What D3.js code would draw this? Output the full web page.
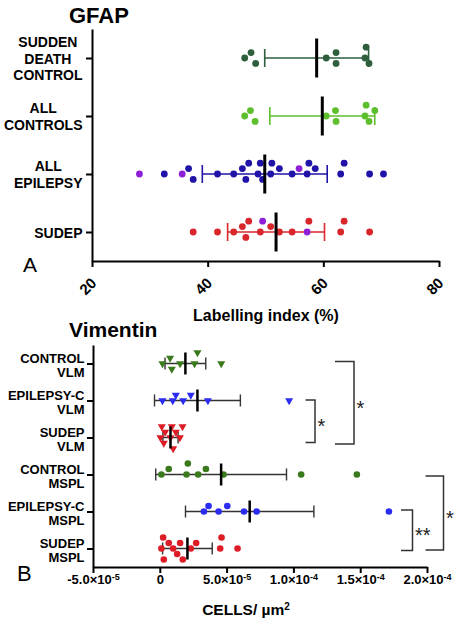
<!DOCTYPE html>
<html><head><meta charset="utf-8">
<script src="https://cdn.jsdelivr.net/npm/d3@7"></script>
<style>
body{margin:0;background:#fff}
svg{font-family:Arial,"Liberation Sans",Helvetica,sans-serif}
</style>
</head><body>
<svg id="c" width="457" height="620"></svg>
<script>
// ---------------- DATA ----------------
// Panel A: GFAP labelling index (%)
const gfapCategories = ["SUDDEN\nDEATH\nCONTROL", "ALL\nCONTROLS", "ALL\nEPILEPSY", "SUDEP"];
const gfapSuddenDeathControl = [46.4, 47.5, 48.3, 60.5, 62.2, 62.2, 67.4, 67.2, 67.9];
const gfapAllControls = [46.4, 47.4, 48.2, 60.5, 62.1, 62.2, 67.4, 67.2, 68.9, 67.9];
const gfapAllEpilepsy = [32.5, 36.7, 37.5, 41.7, 44.5, 47.1, 46.0, 46.6, 48.7, 49.1, 49.5, 51.1, 50.9, 52.4, 54.6, 57.2, 57.5, 58.6, 63.0, 63.6, 68.0, 70.4];
const gfapAllEpilepsyHighlighted = [28.2, 35.6, 55.8];
const gfapSudep = [37.5, 41.7, 44.5, 46.6, 46.0, 47.1, 49.1, 50.9, 52.4, 54.6, 57.5, 63.6, 63.0, 68.0];
const gfapSudepHighlighted = [49.5, 57.2];
const gfapTicks = [20, 40, 60, 80];

// Panel B: Vimentin (values in units of 1e-5 cells/µm²)
const vimCategories = ["CONTROL\nVLM", "EPILEPSY-C\nVLM", "SUDEP\nVLM", "CONTROL\nMSPL", "EPILEPSY-C\nMSPL", "SUDEP\nMSPL"];
const vimUnit = 1e-5;
const vimControlVLM = [0.2, 0.77, 0.9, 1.52, 2.6, 2.82, 4.6];
const vimEpilepsyCVLM = [0.2, 0.97, 1.2, 1.75, 2.32, 3.6, 9.68];
const vimSudepVLM = [0.05, 0.15, 0.3, 0.4, 0.8, 0.9, 1.0, 1.2, 1.5, 1.7];
const vimControlMSPL = [0.12, 0.67, 2.0, 2.1, 2.87, 3.45, 4.77, 10.58, 14.75];
const vimEpilepsyCMSPL = [3.3, 3.65, 4.4, 5.05, 6.3, 7.25, 17.15];
const vimSudepMSPL = [0.12, 0.25, 0.3, 0.67, 1.0, 1.3, 1.52, 1.72, 2.32, 2.72, 4.52, 4.62, 5.82];
const vimTicks = [-5e-5, 0, 5e-5, 1e-4, 1.5e-4, 2e-4];
const vimBrackets = [
  {from: 0, to: 2, label: "*"},
  {from: 1, to: 2, label: "*"},
  {from: 3, to: 5, label: "*"},
  {from: 4, to: 5, label: "**"}
];

// ---------------- HELPERS ----------------
const svg = d3.select("#c");

// lane-based scatter: same lane needs sameDx px apart, neighbouring lanes adjDx px
function swarm(points, x, sameDx, adjDx) {
  const sorted = points.slice().sort((a, b) => a.v - b.v);
  const placed = [];
  const lanes = [0, -1, 1, -2, 2, -3, 3, -4, 4, -5, 5];
  sorted.forEach(p => {
    p.px = x(p.v);
    for (const k of lanes) {
      const ok = placed.every(q => {
        const dx = Math.abs(q.px - p.px), dl = Math.abs(q.lane - k);
        if (dl === 0) return dx >= sameDx;
        if (dl === 1) return dx >= adjDx;
        return true;
      });
      if (ok) { p.lane = k; break; }
    }
    if (p.lane === undefined) p.lane = 0;
    placed.push(p);
  });
  return points;
}

function styleAxis(g, w) {
  g.select(".domain").attr("stroke", "#000").attr("stroke-width", w);
  g.selectAll(".tick line").attr("stroke", "#000").attr("stroke-width", w);
}

// ---------------- PANEL A ----------------
const xA = d3.scaleLinear().domain([20, 80]).range([92, 439]);
const yA = d3.scalePoint().domain(gfapCategories).range([29, 261]).padding(0.5);

const gxA = svg.append("g").attr("transform", "translate(0,261)")
  .call(d3.axisBottom(xA).tickValues(gfapTicks).tickSize(6).tickSizeOuter(0).tickFormat(d3.format("d")));
styleAxis(gxA, 2);
gxA.selectAll(".tick text")
  .attr("x", 0).attr("y", 0).attr("dy", 0)
  .attr("text-anchor", "end")
  .attr("transform", "translate(5,23) rotate(-45)")
  .attr("font-size", 15).attr("font-weight", "bold").attr("fill", "#000")
  .attr("font-family", "Arial,'Liberation Sans',sans-serif");

const gyA = svg.append("g").attr("transform", "translate(92,0)")
  .call(d3.axisLeft(yA).tickSize(6).tickSizeOuter(0).tickFormat(""));
styleAxis(gyA, 2);

// category labels A: block right-aligned, lines centered within block
gfapCategories.forEach(c => {
  const lines = c.split("\n");
  const lh = 16.5;
  const cy = yA(c);
  const t = svg.append("text").attr("font-size", 14).attr("font-weight", "bold")
    .attr("text-anchor", "middle").attr("fill", "#000");
  const spans = lines.map((l, i) => t.append("tspan").text(l)
    .attr("y", cy + 5.5 + (i - (lines.length - 1) / 2) * lh));
  const maxW = d3.max(spans, s => s.node().getComputedTextLength());
  spans.forEach(s => s.attr("x", 82.5 - maxW / 2));
});

svg.append("text").attr("x", 69).attr("y", 22.5).text("GFAP")
  .attr("font-size", 22).attr("font-weight", "bold");
svg.append("text").attr("x", 23).attr("y", 272).text("A")
  .attr("font-size", 21);
svg.append("text").attr("x", 266).attr("y", 321).attr("text-anchor", "middle")
  .text("Labelling index (%)").attr("font-size", 16).attr("font-weight", "bold");

const highlightColor = "#8e1fd8";
const gfapGroups = [
  {cat: gfapCategories[0], values: gfapSuddenDeathControl, hi: [], color: "#2e5e3c"},
  {cat: gfapCategories[1], values: gfapAllControls, hi: [], color: "#5dbf2b"},
  {cat: gfapCategories[2], values: gfapAllEpilepsy, hi: gfapAllEpilepsyHighlighted, color: "#1f13a8"},
  {cat: gfapCategories[3], values: gfapSudep, hi: gfapSudepHighlighted, color: "#d9262b"}
];
const laneA = 5.4;

gfapGroups.forEach(g => {
  const pts = g.values.map(v => ({v, c: g.color})).concat(g.hi.map(v => ({v, c: highlightColor})));
  const vals = pts.map(d => d.v);
  const m = d3.mean(vals), sd = d3.deviation(vals);
  const cy = yA(g.cat);
  const grp = svg.append("g");
  const x0 = xA(m - sd), x1 = xA(m + sd);
  grp.append("line").attr("x1", x0).attr("x2", x1).attr("y1", cy).attr("y2", cy)
    .attr("stroke", g.color).attr("stroke-width", 1.6);
  [x0, x1].forEach(xx => grp.append("line").attr("x1", xx).attr("x2", xx)
    .attr("y1", cy - 9).attr("y2", cy + 9).attr("stroke", g.color).attr("stroke-width", 1.6));
  swarm(pts, xA, 11, 3.5);
  grp.selectAll("circle").data(pts).join("circle")
    .attr("cx", d => xA(d.v)).attr("cy", d => cy + d.lane * laneA)
    .attr("r", 3.4).attr("fill", d => d.c);
  grp.append("line").attr("x1", xA(m)).attr("x2", xA(m))
    .attr("y1", cy - 19.5).attr("y2", cy + 19.5).attr("stroke", "#000").attr("stroke-width", 3);
});

// ---------------- PANEL B ----------------
const xB = d3.scaleLinear().domain([-5e-5, 2e-4]).range([93, 427]);
const yB = d3.scalePoint().domain(vimCategories).range([345, 567]).padding(0.5);

const gxB = svg.append("g").attr("transform", "translate(0,567)")
  .call(d3.axisBottom(xB).tickValues(vimTicks).tickSize(6).tickSizeOuter(0));
styleAxis(gxB, 2);
gxB.selectAll(".tick text").each(function(d) {
  const t = d3.select(this);
  t.text(null).attr("y", 8).attr("font-size", 13).attr("font-weight", "bold")
    .attr("fill", "#000").attr("font-family", "Arial,'Liberation Sans',sans-serif");
  if (d === 0) { t.text("0"); return; }
  const e = Math.floor(Math.log10(Math.abs(d)) + 1e-9);
  const mant = d / Math.pow(10, e);
  t.append("tspan").text(mant.toFixed(1) + "\u00d710");
  t.append("tspan").text(String(e)).attr("font-size", 9).attr("dy", "-0.5em");
});

const gyB = svg.append("g").attr("transform", "translate(93,0)")
  .call(d3.axisLeft(yB).tickSize(6).tickSizeOuter(0).tickFormat(""));
styleAxis(gyB, 2);

vimCategories.forEach(c => {
  const lines = c.split("\n");
  const cy = yB(c);
  const t = svg.append("text").attr("font-size", 13).attr("font-weight", "bold")
    .attr("text-anchor", "end").attr("fill", "#000");
  lines.forEach((l, i) => t.append("tspan").text(l).attr("x", 84.5).attr("y", cy - 1 + i * 14));
});

svg.append("text").attr("x", 69).attr("y", 336.5).text("Vimentin")
  .attr("font-size", 21).attr("font-weight", "bold");
svg.append("text").attr("x", 17).attr("y", 581).text("B")
  .attr("font-size", 22);
const xt = svg.append("text").attr("x", 246).attr("y", 615).attr("text-anchor", "middle")
  .attr("font-size", 15.5).attr("font-weight", "bold");
xt.append("tspan").text("CELLS/ \u00b5m");
xt.append("tspan").text("2").attr("font-size", 10).attr("dy", "-0.55em");

const vimGroups = [
  {cat: vimCategories[0], values: vimControlVLM, color: "#3a7a1c", shape: "tri"},
  {cat: vimCategories[1], values: vimEpilepsyCVLM, color: "#2b2bf2", shape: "tri"},
  {cat: vimCategories[2], values: vimSudepVLM, color: "#dd1c25", shape: "tri"},
  {cat: vimCategories[3], values: vimControlMSPL, color: "#3a7a1c", shape: "dot"},
  {cat: vimCategories[4], values: vimEpilepsyCMSPL, color: "#2b2bf2", shape: "dot"},
  {cat: vimCategories[5], values: vimSudepMSPL, color: "#dd1c25", shape: "dot"}
];
const tri = d3.symbol().type(d3.symbolTriangle).size(28);
const laneB = 5.5;

vimGroups.forEach(g => {
  const pts = g.values.map(v => ({v: v * vimUnit}));
  const vals = pts.map(d => d.v);
  const m = d3.mean(vals), sd = d3.deviation(vals);
  const cy = yB(g.cat);
  const grp = svg.append("g");
  const x0 = xB(m - sd), x1 = xB(m + sd);
  grp.append("line").attr("x1", x0).attr("x2", x1).attr("y1", cy).attr("y2", cy)
    .attr("stroke", "#333").attr("stroke-width", 1.4);
  [x0, x1].forEach(xx => grp.append("line").attr("x1", xx).attr("x2", xx)
    .attr("y1", cy - 6).attr("y2", cy + 6).attr("stroke", "#333").attr("stroke-width", 1.4));
  swarm(pts, xB, 9, 3);
  if (g.shape === "tri") {
    grp.selectAll("path.pt").data(pts).join("path").attr("class", "pt")
      .attr("d", tri)
      .attr("transform", d => `translate(${xB(d.v)},${cy + d.lane * laneB}) rotate(180)`)
      .attr("fill", g.color);
  } else {
    grp.selectAll("circle").data(pts).join("circle")
      .attr("cx", d => xB(d.v)).attr("cy", d => cy + d.lane * laneB)
      .attr("r", 3.3).attr("fill", g.color);
  }
  grp.append("line").attr("x1", xB(m)).attr("x2", xB(m))
    .attr("y1", cy - 11).attr("y2", cy + 11).attr("stroke", "#000").attr("stroke-width", 2.5);
});

// significance brackets (layout: x of vertical line, arm length, offsets)
const bracketLayout = [
  {x: 354, arm: 19, top: -2, bot: 6.5},
  {x: 315, arm: 9.5, top: -0.5, bot: 5},
  {x: 443.5, arm: 18, top: 1.5, bot: 1.5},
  {x: 412.5, arm: 11.5, top: -1.5, bot: 2}
];
vimBrackets.forEach((b, i) => {
  const L = bracketLayout[i];
  const y0 = yB(vimCategories[b.from]) + L.top, y1 = yB(vimCategories[b.to]) + L.bot;
  svg.append("path")
    .attr("d", `M${L.x - L.arm},${y0}H${L.x}V${y1}H${L.x - L.arm}`)
    .attr("fill", "none").attr("stroke", "#333").attr("stroke-width", 1.5);
  svg.append("text").attr("x", L.x + 2.5).attr("y", (y0 + y1) / 2 + 12)
    .text(b.label).attr("font-size", 20).attr("fill", "#222");
});
</script>
</body></html>
